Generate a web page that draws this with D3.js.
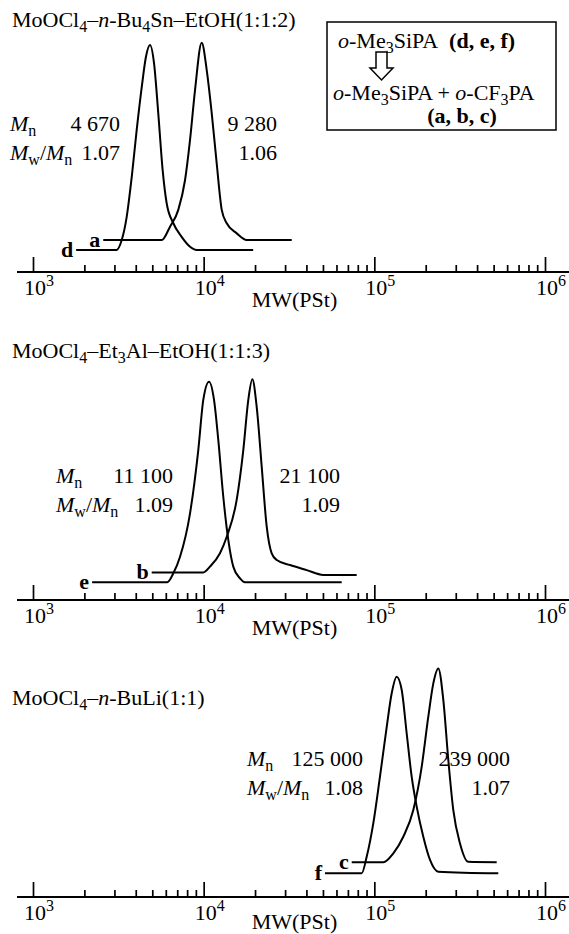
<!DOCTYPE html>
<html>
<head>
<meta charset="utf-8">
<script src="https://cdn.jsdelivr.net/npm/d3@7"></script>
<style>
  body { margin: 0; background: #fff; }
  svg { display: block; }
  text { font-family: "Liberation Serif", "DejaVu Serif", "Times New Roman", Times, serif; font-size: 22px; fill: #000; }
</style>
</head>
<body>
<div id="chart"></div>
<script>
// GPC traces: MW(PSt) against detector response (0..100, arbitrary units)

var majorTicks = [1e3, 1e4, 1e5, 1e6];

// panel titles, as [text, style] parts
var titles = [
  [['MoOCl'], ['4', 'sub'], ['–'], ['n', 'i'], ['-Bu'], ['4', 'sub'], ['Sn–EtOH(1:1:2)']],
  [['MoOCl'], ['4', 'sub'], ['–Et'], ['3', 'sub'], ['Al–EtOH(1:1:3)']],
  [['MoOCl'], ['4', 'sub'], ['–'], ['n', 'i'], ['-BuLi(1:1)']]
];

var mnLeft = ['4 670', '11 100', '125 000'];
var pdiLeft = ['1.07', '1.09', '1.08'];
var mnRight = ['9 280', '21 100', '239 000'];
var pdiRight = ['1.06', '1.09', '1.07'];

// curve letters: [homopolymer, copolymer]
var leftNames = ['d', 'e', 'f'];
var rightNames = ['a', 'b', 'c'];

// [MW, response]
var curveD = [[1790, 9.6], [3090, 9.6], [3310, 13.9], [3540, 24], [3790, 41.4], [4050, 61.7], [4340, 80.6],
  [4590, 93.6], [4850, 98.7], [5120, 90.7], [5420, 69], [5750, 44.3], [6070, 29.9], [6640, 21.2],
  [7430, 15.3], [8320, 11], [9100, 9.6], [19500, 9.6]];
var curveA = [[2580, 13.9], [5680, 13.9], [6350, 19.7], [7100, 27], [7780, 40], [8320, 57.4], [8900, 79.1],
  [9740, 99.7], [10420, 87.8], [11150, 69], [11920, 47.3], [12760, 27], [13650, 21.2], [15620, 16.8],
  [17870, 13.9], [32800, 13.9]];
var curveE = [[2220, 7.7], [6120, 7.7], [6640, 11.6], [7270, 18.8], [8320, 37.7], [9300, 65.2], [9950, 87],
  [10750, 94.9], [11500, 87], [12180, 69.6], [13030, 44.9], [13940, 26.1], [14910, 14.5], [16330, 9.4],
  [17470, 7.7], [64400, 7.7]];
var curveB = [[4960, 12], [9950, 12], [10890, 14.5], [12460, 20.3], [13650, 27.5], [15610, 43.5], [17070, 65.2],
  [18260, 87], [19280, 96], [20450, 84], [21880, 58], [23410, 31.9], [25040, 20.3], [26790, 17.4],
  [32050, 15.2], [40160, 13], [50230, 10.9], [78800, 10.9]];
var curveF = [[51400, 10.3], [84300, 10.3], [90200, 17.5], [98600, 32], [107900, 52.3], [118200, 74],
  [126400, 88.6], [135200, 95.8], [144700, 90], [154700, 71.2], [165500, 52.3], [177100, 39.3],
  [193600, 26.2], [212000, 16.1], [237000, 11], [532500, 10.3]];
var curveC = [[73700, 15.1], [112900, 15.1], [129200, 19], [147800, 26.2], [169200, 37.8], [189500, 56.7],
  [207100, 78.4], [221600, 92.9], [237000, 99.4], [253600, 85.7], [271300, 59.6], [290200, 37.8],
  [317700, 23.3], [355300, 15.3], [521200, 15.1]];

var leftCurves = [curveD, curveE, curveF];
var rightCurves = [curveA, curveB, curveC];

var width = 569,
  height = 934;

// placement of each panel
var layout = [
  { axisY: 272, titleY: 27, mnX: 10, mnY: 131, leftValX: 120, rightValX: 277, mwY: 307 },
  { axisY: 600, titleY: 358, mnX: 56, mnY: 483, leftValX: 173, rightValX: 340, mwY: 635 },
  { axisY: 897, titleY: 705, mnX: 247, mnY: 766, leftValX: 363, rightValX: 510, mwY: 929 }
];

var svg = d3
  .select('#chart')
  .append('svg')
  .attr('width', width)
  .attr('height', height);

var x = d3.scaleLog().domain([1e3, 1e6]).range([33, 545]);

// text made of parts: plain, italic, bold, subscript, superscript
function richText(g, tx, ty, parts, anchor) {
  var t = g
    .append('text')
    .attr('x', tx)
    .attr('y', ty)
    .attr('text-anchor', anchor || 'start');
  var shift = 0;
  parts.forEach(function (p) {
    var style = p[1] || '';
    var s = t.append('tspan').text(p[0]);
    var want = style === 'sub' ? 5 : style === 'sup' ? -9 : 0;
    if (want !== shift) {
      s.attr('dy', want - shift);
      shift = want;
    }
    if (want !== 0) s.style('font-size', '16px');
    if (style === 'i') s.style('font-style', 'italic');
    if (style === 'b') s.style('font-weight', 'bold');
  });
  return t;
}

layout.forEach(function (L, i) {
  var g = svg.append('g');
  var y = d3.scaleLinear().domain([0, 100]).range([L.axisY, L.axisY - 230]);

  richText(g, 12, L.titleY, titles[i]);

  // axis line and upward ticks
  g.append('line')
    .attr('x1', 17)
    .attr('x2', width)
    .attr('y1', L.axisY)
    .attr('y2', L.axisY)
    .attr('stroke', '#000')
    .attr('stroke-width', 2);

  var minor = x.ticks().filter(function (v) {
    return majorTicks.indexOf(v) < 0;
  });

  g.append('g')
    .attr('transform', 'translate(0,' + L.axisY + ')')
    .call(d3.axisTop(x).tickValues(minor).tickSize(7).tickSizeOuter(0).tickFormat(''))
    .call(function (a) { a.select('.domain').remove(); })
    .selectAll('line')
    .attr('stroke-width', 1.7);

  g.append('g')
    .attr('transform', 'translate(0,' + L.axisY + ')')
    .call(d3.axisTop(x).tickValues(majorTicks).tickSize(15).tickSizeOuter(0).tickFormat(''))
    .call(function (a) { a.select('.domain').remove(); })
    .selectAll('line')
    .attr('stroke-width', 1.7);

  majorTicks.forEach(function (v) {
    richText(g, x(v) - 9, L.axisY + 23, [['10'], [String(Math.round(Math.log10(v))), 'sup']]);
  });

  g.append('text')
    .attr('x', x(1e4) + 48)
    .attr('y', L.mwY)
    .text('MW(PSt)');

  // traces
  var line = d3
    .line()
    .x(function (d) { return x(d[0]); })
    .y(function (d) { return y(d[1]); })
    .curve(d3.curveMonotoneX);

  [leftCurves[i], rightCurves[i]].forEach(function (c, k) {
    g.append('path')
      .attr('d', line(c))
      .attr('fill', 'none')
      .attr('stroke', '#000')
      .attr('stroke-width', 2);
    g.append('text')
      .attr('x', x(c[0][0]) - 3)
      .attr('y', y(c[0][1]) + 7)
      .attr('text-anchor', 'end')
      .style('font-weight', 'bold')
      .text(k === 0 ? leftNames[i] : rightNames[i]);
  });

  // Mn and Mw/Mn
  richText(g, L.mnX, L.mnY, [['M', 'i'], ['n', 'sub']]);
  richText(g, L.mnX, L.mnY + 29, [['M', 'i'], ['w', 'sub'], ['/'], ['M', 'i'], ['n', 'sub']]);
  g.append('text').attr('x', L.leftValX).attr('y', L.mnY).attr('text-anchor', 'end').text(mnLeft[i]);
  g.append('text').attr('x', L.leftValX).attr('y', L.mnY + 29).attr('text-anchor', 'end').text(pdiLeft[i]);
  g.append('text').attr('x', L.rightValX).attr('y', L.mnY).attr('text-anchor', 'end').text(mnRight[i]);
  g.append('text').attr('x', L.rightValX).attr('y', L.mnY + 29).attr('text-anchor', 'end').text(pdiRight[i]);
});

// legend box
var box = svg.append('g');
box.append('rect')
  .attr('x', 327)
  .attr('y', 22)
  .attr('width', 229)
  .attr('height', 108)
  .attr('fill', 'none')
  .attr('stroke', '#000')
  .attr('stroke-width', 1.5);

richText(box, 338, 48, [['o', 'i'], ['-Me'], ['3', 'sub'], ['SiPA\u00a0\u00a0'], ['(d, e, f)', 'b']]);

// hollow arrow
box.append('path')
  .attr('d', 'M376,52 H387 V68 H393 L381.5,80 L370,68 H376 Z')
  .attr('fill', '#fff')
  .attr('stroke', '#000')
  .attr('stroke-width', 1.5);

richText(box, 333, 100, [['o', 'i'], ['-Me'], ['3', 'sub'], ['SiPA + '], ['o', 'i'], ['-CF'], ['3', 'sub'], ['PA']]);
richText(box, 462, 123, [['(a, b, c)', 'b']], 'middle');
</script>
</body>
</html>
